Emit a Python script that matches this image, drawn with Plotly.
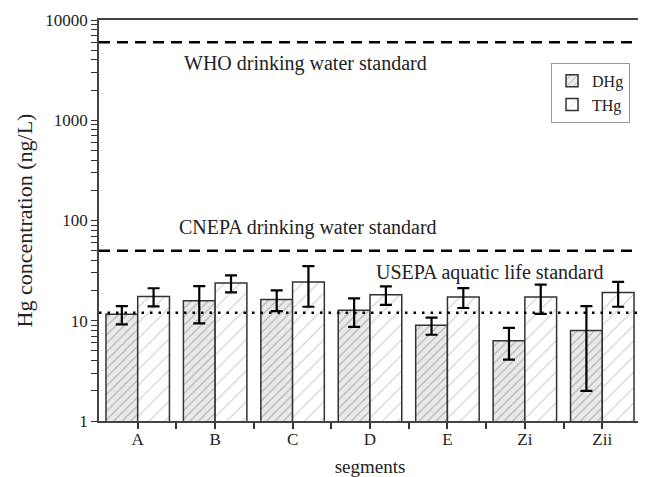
import plotly.graph_objects as go

segments = ["A", "B", "C", "D", "E", "Zi", "Zii"]
dhg = [11.6, 15.8, 16.3, 12.7, 9.0, 6.3, 8.0]
dhg_err = [2.4, 6.4, 3.8, 4.0, 1.75, 2.2, 6.0]
thg = [17.5, 23.8, 24.4, 18.2, 17.3, 17.3, 19.1]
thg_err = [3.6, 4.6, 10.6, 3.8, 3.9, 5.6, 5.3]

who_std = 6000
cnepa_std = 50
usepa_std = 12

major_ticks = [1, 10, 100, 1000, 10000]
major_labels = ["1", "10", "100", "1000", "10000"]
minor_ticks = [m * d for d in major_ticks[:-1] for m in range(2, 10)]

# all y ticks (decades labelled, in-between ticks unlabelled)
y_tickvals = major_ticks + minor_ticks
y_ticktext = major_labels + [""] * len(minor_ticks)

xpos = list(range(len(segments)))
xbounds = [i + 0.5 for i in xpos[:-1]]
x_tickvals = xpos + xbounds
x_ticktext = segments + [""] * len(xbounds)

FONT = "Liberation Serif, Times New Roman, serif"

fig = go.Figure()
fig.add_trace(go.Bar(
    x=xpos, y=dhg, name="DHg",
    marker=dict(color="#e6e6e6", line=dict(color="#333", width=1.5),
                pattern=dict(shape="/", size=6, solidity=0.2, fgcolor="#808080", bgcolor="#eaeaea")),
    error_y=dict(type="data", array=dhg_err, visible=True, color="black", thickness=2.2, width=6),
))
fig.add_trace(go.Bar(
    x=xpos, y=thg, name="THg",
    marker=dict(color="white", line=dict(color="#333", width=1.5),
                pattern=dict(shape="/", size=11, solidity=0.1, fgcolor="#999", bgcolor="white")),
    error_y=dict(type="data", array=thg_err, visible=True, color="black", thickness=2.2, width=6),
))

for val, dash in [(who_std, "11px,7px"), (cnepa_std, "11px,7px"), (usepa_std, "2.5px,6px")]:
    fig.add_shape(type="line", xref="x domain", yref="y", x0=0, x1=1, y0=val, y1=val,
                  line=dict(color="black", width=2.5, dash=dash), layer="above")

ann = [
    ("WHO drinking water standard", 0.154, 3.57),
    ("CNEPA drinking water standard", 0.144, 1.93),
    ("USEPA aquatic life standard", 0.508, 1.48),
]
for text, xp, ylog in ann:
    fig.add_annotation(text=text, xref="paper", yref="y", x=xp, y=ylog, xanchor="left",
                       yanchor="middle", showarrow=False,
                       font=dict(family=FONT, size=20, color="#222"))

# page body has an 8px margin: size and margins compensate for it
fig.update_layout(
    width=638, height=469,
    margin=dict(l=91, r=3, t=12, b=54),
    paper_bgcolor="white", plot_bgcolor="white",
    barmode="group", bargap=0.18, bargroupgap=0,
    font=dict(family=FONT, size=17, color="#222"),
    legend=dict(x=0.834, y=0.893, xanchor="left", yanchor="top",
                bgcolor="white", bordercolor="#999", borderwidth=1,
                font=dict(family=FONT, size=16), tracegroupgap=0,
                itemwidth=30),
    showlegend=True,
    xaxis=dict(
        range=[-0.5, len(segments) - 0.5],
        tickmode="array", tickvals=x_tickvals, ticktext=x_ticktext,
        ticks="outside", ticklen=6, tickwidth=1.5, tickcolor="#333",
        ticklabelstandoff=-4,
        showline=True, linecolor="#444", linewidth=1.5, mirror=True,
        showgrid=False, zeroline=False,
        title=dict(text="segments", font=dict(family=FONT, size=19), standoff=12),
        tickfont=dict(family=FONT, size=17),
    ),
    yaxis=dict(
        type="log", range=[0, 4],
        tickmode="array", tickvals=y_tickvals, ticktext=y_ticktext,
        ticks="outside", ticklen=6, tickwidth=1.3, tickcolor="#333",
        showline=True, linecolor="#444", linewidth=1.5, mirror=True,
        showgrid=False, zeroline=False,
        title=dict(text="Hg concentration (ng/L)", font=dict(family=FONT, size=22), standoff=7),
        tickfont=dict(family=FONT, size=17),
    ),
)

fig.write_html("out.html")
